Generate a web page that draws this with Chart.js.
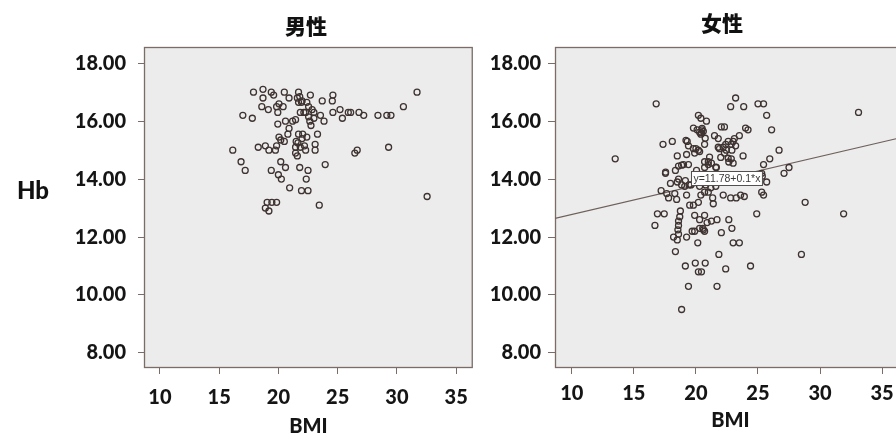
<!DOCTYPE html>
<html>
<head>
<meta charset="utf-8">
<script src="https://cdn.jsdelivr.net/npm/chart.js@4/dist/chart.umd.min.js"></script>
<style>
  html, body { margin: 0; padding: 0; background: #ffffff; }
  #wrap { position: relative; width: 896px; height: 434px; overflow: hidden; background: #ffffff; }
  #wrap canvas { position: absolute; top: 0; }
  .lbl { position: absolute; font-weight: 900; color: #111; white-space: nowrap; line-height: 1; transform: translate(-50%, -50%); }
</style>
</head>
<body>
<div id="wrap">
  <canvas id="male" width="480" height="434" style="left:0"></canvas>
  <canvas id="female" width="430" height="434" style="left:480px"></canvas>
  <div class="lbl" style="left:306px; top:25px; font-family:'Noto Sans CJK SC'; font-size:21px;">男性</div>
  <div class="lbl" style="left:722px; top:22px; font-family:'Noto Sans CJK SC'; font-size:21px;">女性</div>
  <div class="lbl" style="left:33px; top:190px; font-family:Lato; font-size:24px;">Hb</div>
</div>
<script>
// Male: BMI and Hb per subject
const maleBMI = [
  17.9, 18.7, 19.4, 19.6, 20.5, 21.7, 21.8, 22.0, 22.7, 23.7, 24.6, 24.55, 31.7,
  18.7, 18.6, 19.15, 19.85, 20.05, 20.4, 20.9, 21.7, 22.4, 22.55, 22.85, 19.95,
  21.85, 22.15, 23.0, 23.55, 23.85, 24.6, 25.2, 25.4, 25.9, 26.1, 26.8, 27.2,
  28.4, 29.15, 29.5, 30.55, 17.0, 17.8, 19.95, 20.6, 21.2, 20.9, 21.45, 22.65,
  22.75, 20.8, 21.7, 22.05, 23.3, 20.05, 20.2, 20.5, 21.5, 22.0, 22.4, 23.1,
  16.15, 18.3, 18.9, 19.2, 19.75, 19.85, 21.45, 21.6, 21.85, 22.3, 23.1, 26.65,
  26.45, 29.3, 16.85, 17.2, 20.2, 20.6, 19.4, 20.0, 20.25, 21.8, 22.5, 22.35,
  23.95, 20.95, 21.95, 22.5, 19.05, 19.45, 19.85, 18.9, 19.2, 23.45, 32.55,
  21.6, 21.95, 22.3, 22.55, 23.0, 21.65, 22.2, 21.45
];
const maleHb = [
  17.0, 17.1, 17.0, 16.9, 17.0, 17.0, 16.85, 16.7, 16.9, 16.7, 16.9, 16.7, 17.0,
  16.8, 16.5, 16.4, 16.5, 16.6, 16.5, 16.8, 16.65, 16.65, 16.5, 16.4, 16.3,
  16.3, 16.3, 16.3, 16.2, 16.0, 16.3, 16.4, 16.1, 16.3, 16.3, 16.3, 16.2,
  16.2, 16.2, 16.2, 16.5, 16.2, 16.1, 15.9, 16.0, 16.0, 15.75, 16.05, 16.0,
  15.85, 15.55, 15.55, 15.55, 15.55, 15.45, 15.35, 15.3, 15.3, 15.4, 15.45, 15.2,
  15.0, 15.1, 15.15, 15.0, 15.0, 15.15, 14.9, 14.8, 15.1, 15.0, 15.0, 15.0,
  14.9, 15.1, 14.6, 14.3, 14.6, 14.4, 14.3, 14.15, 14.0, 14.4, 14.3, 14.0,
  14.5, 13.7, 13.6, 13.6, 13.2, 13.2, 13.2, 13.0, 12.9, 13.1, 13.4,
  16.8, 16.65, 16.3, 16.15, 16.1, 15.25, 15.15, 15.1
];

// Female: BMI and Hb per subject
const femaleBMI = [
  16.8, 13.5, 23.2, 22.8, 23.85, 25.0, 25.45, 25.7, 26.1, 33.1, 24.2, 23.5, 22.05, 22.3,
  20.2, 20.4, 20.85, 20.1, 20.5, 20.6, 20.45, 20.3, 21.5, 21.8, 20.7, 19.3, 19.4, 19.8,
  19.9, 20.2, 18.1, 17.35, 18.5, 19.25, 22.2, 22.45, 22.3, 22.85, 23.0, 23.1, 23.8, 22.0,
  22.85, 23.0, 20.7, 21.0, 21.25, 21.65, 18.6, 19.0, 19.4, 20.05, 26.7, 25.95, 25.45, 27.5,
  27.1, 25.3, 25.35, 25.7, 25.3, 25.45, 28.8, 31.9, 24.9, 17.55, 17.95, 18.5, 18.85, 19.1,
  19.45, 18.6, 17.2, 17.65, 17.8, 18.3, 18.45, 19.25, 19.5, 19.8, 20.2, 20.4, 20.7, 21.0,
  21.35, 21.4, 22.2, 22.8, 23.25, 23.6, 23.9, 18.75, 18.7, 16.9, 17.45, 16.7, 19.9, 20.3,
  20.7, 20.9, 21.25, 21.7, 22.65, 22.9, 22.05, 18.6, 18.6, 18.55, 18.6, 18.5, 18.2, 19.25,
  19.7, 19.9, 20.3, 20.55, 20.7, 20.6, 20.15, 23.0, 23.5, 18.35, 21.85, 28.5, 19.15, 19.95,
  20.75, 20.2, 20.45, 22.4, 24.4, 19.4, 21.7, 18.85, 19.8, 24.0, 22.6, 22.4, 21.9, 23.2,
  22.9, 20.75, 19.2, 20.0, 20.3, 21.1, 21.8, 22.6, 22.65, 21.6, 21.0, 20.7, 18.85, 17.56,
  19.6, 20.3, 20.8, 21.2, 21.6, 20.5, 20.4, 18.35, 19.15, 20.15, 23.3, 24.5
];
const femaleHb = [
  16.6, 14.7, 16.8, 16.5, 16.5, 16.6, 16.6, 16.2, 15.7, 16.3, 15.7, 15.5, 15.8, 15.8,
  16.2, 16.1, 16.0, 15.7, 15.75, 15.65, 15.6, 15.62, 15.5, 15.4, 15.2, 15.3, 15.15, 15.05,
  14.9, 15.0, 15.3, 15.2, 14.8, 14.85, 15.1, 15.0, 14.9, 15.2, 15.3, 15.4, 14.8, 14.75,
  14.7, 14.55, 14.6, 14.6, 14.55, 14.4, 14.45, 14.5, 14.5, 14.3, 15.0, 14.7, 14.5, 14.4,
  14.2, 14.2, 14.1, 13.9, 13.55, 13.45, 13.2, 12.8, 12.8, 14.2, 13.85, 13.9, 13.8, 13.75,
  13.8, 14.0, 13.6, 13.5, 13.35, 13.5, 13.3, 13.45, 13.1, 13.1, 13.2, 13.45, 13.55, 13.55,
  13.35, 13.15, 13.45, 13.35, 13.35, 13.45, 13.4, 12.9, 12.7, 12.8, 12.8, 12.4, 12.75, 12.6,
  12.75, 12.5, 12.55, 12.6, 12.6, 12.3, 12.15, 12.55, 12.4, 12.25, 12.1, 11.9, 12.0, 12.0,
  12.2, 12.2, 12.3, 12.3, 12.2, 12.25, 11.8, 11.8, 11.8, 11.5, 11.4, 11.4, 11.0, 11.1,
  11.1, 10.8, 10.8, 10.9, 11.0, 10.3, 10.3, 9.5, 15.76, 15.76, 15.3, 15.2, 15.05, 15.15,
  15.0, 15.41, 15.34, 15.05, 14.95, 14.76, 15.1, 14.72, 14.59, 14.41, 14.5, 14.4, 14.48, 14.24,
  13.8, 13.75, 13.8, 13.7, 13.75, 15.7, 15.55, 14.3, 13.95, 14.1, 14.0, 14.1
];

// Axis ticks
const bmiTicks = [10, 15, 20, 25, 30, 35];
const hbTicks = [8, 10, 12, 14, 16, 18];

// Linear fit for the female group
const fitIntercept = 11.78;
const fitSlope = 0.1;
const fitText = 'y=11.78+0.1*x';
const fitTextBMI = 22.5;

const frameColor = '#7b6c68';
const plotFill = '#ececec';
const markColor = '#3e3331';
const tickFont = { family: 'Lato', weight: '900', size: 20 };

// Grey plot panel with a thin frame
const plotFrame = {
  id: 'plotFrame',
  beforeDraw(chart) {
    const a = chart.chartArea;
    const ctx = chart.ctx;
    ctx.save();
    ctx.fillStyle = plotFill;
    ctx.fillRect(a.left, a.top, a.right - a.left, a.bottom - a.top);
    ctx.restore();
  },
  beforeDatasetsDraw(chart) {
    const a = chart.chartArea;
    const ctx = chart.ctx;
    ctx.save();
    ctx.strokeStyle = frameColor;
    ctx.lineWidth = 1.3;
    ctx.strokeRect(a.left + 0.5, a.top + 0.5, a.right - a.left - 1, a.bottom - a.top - 1);
    ctx.restore();
  }
};

// Boxed equation sitting on the fit line
const fitLabel = {
  id: 'fitLabel',
  afterDatasetsDraw(chart, args, opts) {
    if (!opts || !opts.text) return;
    const xs = chart.scales.x, ys = chart.scales.y;
    const cx = xs.getPixelForValue(opts.at);
    const cy = ys.getPixelForValue(fitIntercept + fitSlope * opts.at);
    const ctx = chart.ctx;
    ctx.save();
    ctx.font = '10.5px "Liberation Sans", Arial, sans-serif';
    const w = ctx.measureText(opts.text).width + 4;
    const h = 14;
    const x0 = Math.round(cx - w / 2) + 0.5, y0 = Math.round(cy - h / 2) + 0.5;
    ctx.fillStyle = '#ffffff';
    ctx.fillRect(x0, y0, w, h);
    ctx.strokeStyle = '#555050';
    ctx.lineWidth = 1;
    ctx.strokeRect(x0, y0, w, h);
    ctx.fillStyle = '#3a3a3a';
    ctx.textAlign = 'center';
    ctx.textBaseline = 'middle';
    ctx.fillText(opts.text, cx, y0 + h / 2 + 0.5);
    ctx.restore();
  }
};

function makePanel(canvasId, bmi, hb, cfg) {
  const datasets = [{
    data: bmi.map((x, i) => ({ x: x, y: hb[i] })),
    pointStyle: 'circle',
    pointRadius: 3,
    pointHoverRadius: 3,
    borderWidth: 1.3,
    borderColor: markColor,
    backgroundColor: 'rgba(0,0,0,0)'
  }];
  if (cfg.fit) {
    datasets.push({
      data: [cfg.xMin, cfg.xMax].map(x => ({ x: x, y: fitIntercept + fitSlope * x })),
      showLine: true,
      pointRadius: 0,
      borderColor: '#6e605c',
      borderWidth: 1.2
    });
  }
  return new Chart(document.getElementById(canvasId), {
    type: 'scatter',
    data: { datasets: datasets },
    plugins: [plotFrame, fitLabel],
    options: {
      responsive: false,
      maintainAspectRatio: false,
      devicePixelRatio: 1,
      animation: false,
      events: [],
      layout: { padding: { top: 47, right: cfg.padRight, left: 0, bottom: 0 } },
      plugins: {
        legend: { display: false },
        tooltip: { enabled: false },
        title: { display: false },
        fitLabel: cfg.fit ? { text: fitText, at: fitTextBMI } : { text: '' }
      },
      scales: {
        x: {
          type: 'linear',
          min: cfg.xMin,
          max: cfg.xMax,
          afterBuildTicks: s => { s.ticks = bmiTicks.map(v => ({ value: v })); },
          afterFit: s => { s.height = 66; },
          border: { display: false },
          grid: { drawOnChartArea: false, drawTicks: true, tickLength: 6, color: frameColor, lineWidth: 1 },
          ticks: { font: tickFont, color: '#151515', padding: cfg.xPad, maxRotation: 0, autoSkip: false },
          title: { display: true, text: 'BMI', color: '#151515',
                   font: { family: 'Lato', weight: '900', size: 20, lineHeight: 1 },
                   padding: { top: 0, bottom: cfg.titlePad } }
        },
        y: {
          type: 'linear',
          min: 7.48,
          max: 18.56,
          afterBuildTicks: s => { s.ticks = hbTicks.map(v => ({ value: v })); },
          afterFit: s => { s.width = cfg.yWidth; },
          border: { display: false },
          grid: { drawOnChartArea: false, drawTicks: true, tickLength: cfg.yTick, color: frameColor, lineWidth: 1 },
          ticks: { font: tickFont, color: '#151515', padding: cfg.yPad, callback: v => Number(v).toFixed(2) }
        }
      }
    }
  });
}

function drawAll() {
  makePanel('male', maleBMI, maleHb, {
    xMin: 8.66, xMax: 36.4, padRight: 5, yWidth: 144, yTick: 6, yPad: 12, xPad: 12, titlePad: -3, fit: false
  });
  makePanel('female', femaleBMI, femaleHb, {
    xMin: 8.65, xMax: 36.9, padRight: 0, yWidth: 75, yTick: 7, yPad: 7, xPad: 8, titlePad: 3, fit: true
  });
}

const fontLoads = document.fonts
  ? Promise.all([
      document.fonts.load('900 20px Lato'),
      document.fonts.load('900 21px "Noto Sans CJK SC"', '男性女性'),
      document.fonts.load('10.5px "Liberation Sans"')
    ]).catch(() => {})
  : Promise.resolve();
fontLoads.then(drawAll);
</script>
</body>
</html>
